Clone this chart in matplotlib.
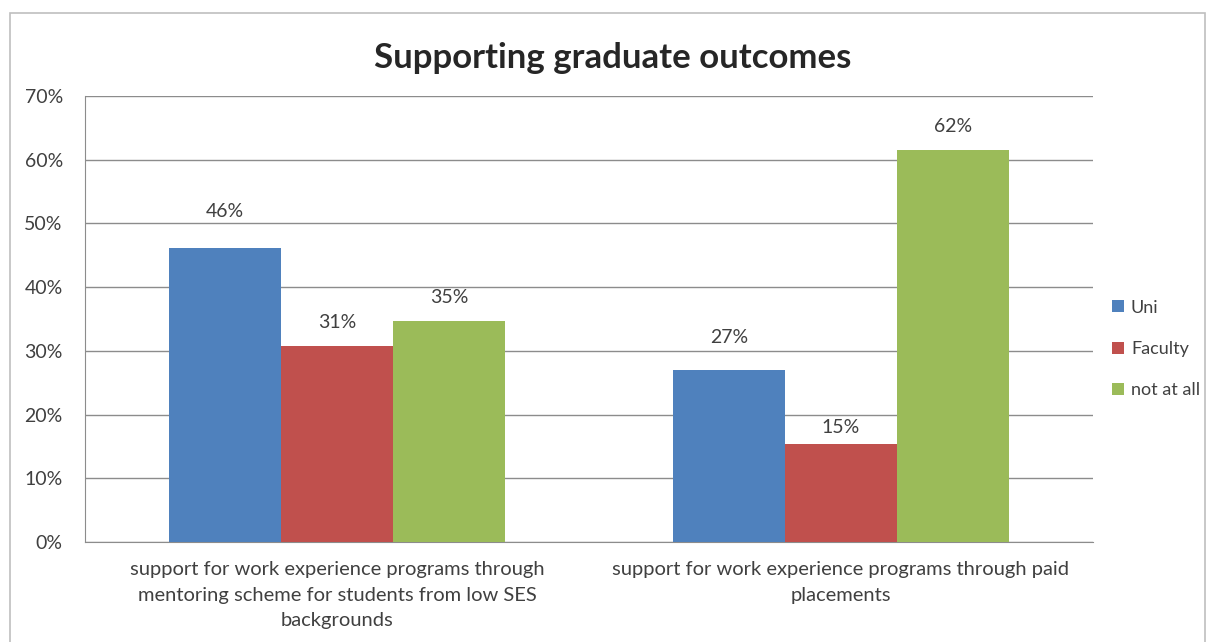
import matplotlib.pyplot as plt
from matplotlib.patches import Rectangle
import numpy as np

plt.rcParams['font.family'] = ['Lato', 'DejaVu Sans']

categories = [
    "support for work experience programs through\nmentoring scheme for students from low SES\nbackgrounds",
    "support for work experience programs through paid\nplacements",
]
series_names = ["Uni", "Faculty", "not at all"]
uni = [46.15, 26.92]
faculty = [30.77, 15.38]
not_at_all = [34.62, 61.54]
colors = ["#4F81BD", "#C0504D", "#9BBB59"]
y_ticks = [0, 10, 20, 30, 40, 50, 60, 70]
# vertical gap (in points) between each bar top and its value label
label_gaps = [[26, 24], [17, 12], [17, 17]]

fig = plt.figure(figsize=(12.13, 6.42), dpi=100)
fig.patches.append(Rectangle((10 / 1213, -0.01), (1205 - 10) / 1213, (642 - 13) / 642 + 0.01,
                             transform=fig.transFigure, fill=False,
                             edgecolor="#BFBFBF", linewidth=1.2))

ax = fig.add_axes([85 / 1213, 100 / 642, 1008 / 1213, 446 / 642])
x = np.array([0.5, 1.5])
w = 112 / 504
for i, (vals, name) in enumerate(zip([uni, faculty, not_at_all], series_names)):
    bars = ax.bar(x + (i - 1) * w, vals, width=w, color=colors[i], label=name, zorder=3)
    for b, v, g in zip(bars, vals, label_gaps[i]):
        ax.annotate(f"{v:.0f}%", (b.get_x() + b.get_width() / 2, v),
                    xytext=(0, g), textcoords="offset points",
                    ha="center", va="center", fontsize=14, color="#404040")

ax.set_xlim(0, 2)
ax.set_ylim(0, 70)
ax.set_yticks(y_ticks)
ax.set_yticklabels([f"{t}%" for t in y_ticks], fontsize=14, color="#404040")
ax.yaxis.grid(True, color="#8C8C8C", linewidth=1, zorder=0)
ax.set_xticks(x)
ax.set_xticklabels(categories, fontsize=14.5, color="#404040", linespacing=1.6)
ax.tick_params(axis="y", length=0, pad=16)
ax.tick_params(axis="x", length=0, pad=14)
for s in ["top", "right"]:
    ax.spines[s].set_visible(False)
for s in ["left", "bottom"]:
    ax.spines[s].set_color("#8C8C8C")

fig.text(613 / 1213, 1 - 58 / 642, "Supporting graduate outcomes", ha="center", va="center",
         fontsize=25, fontweight="bold", color="#262626")

leg = ax.legend(loc="center left", bbox_to_anchor=(1112 / 1213, 1 - 349 / 642),
                bbox_transform=fig.transFigure, frameon=False, borderpad=0, borderaxespad=0,
                fontsize=13, handlelength=0.65, handleheight=0.65, handletextpad=0.4,
                labelspacing=1.4, labelcolor="#404040")

fig.savefig("out.png", dpi=100)
